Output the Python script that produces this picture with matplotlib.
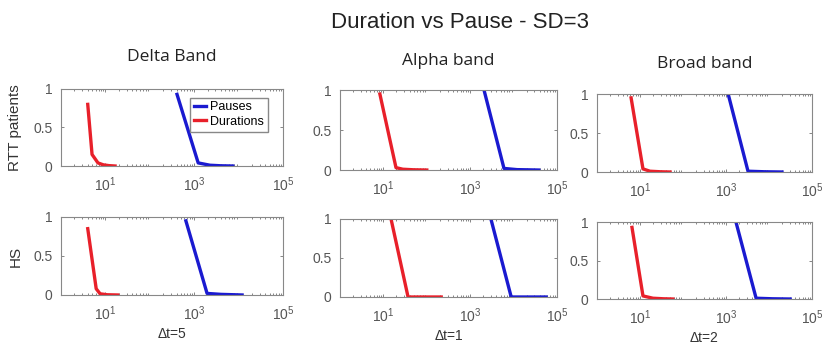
import matplotlib
matplotlib.use('Agg')
import matplotlib.pyplot as plt
from matplotlib.ticker import LogLocator, NullFormatter

# ── Data ──
bands = ["Delta Band", "Alpha band", "Broad band"]
groups = ["RTT patients", "HS"]
dt_labels = ["\u0394t=5", "\u0394t=1", "\u0394t=2"]

# Delta band
dur_x_delta_rtt = [4, 5, 6.8, 9, 12, 16.5]
dur_y_delta_rtt = [0.80, 0.15, 0.04, 0.015, 0.005, 0.0]
pau_x_delta_rtt = [410, 1230, 2270, 4000, 7400]
pau_y_delta_rtt = [0.93, 0.04, 0.01, 0.003, 0.0]
dur_x_delta_hs = [4, 6.2, 7.6, 11, 19]
dur_y_delta_hs = [0.85, 0.08, 0.015, 0.003, 0.0]
pau_x_delta_hs = [650, 1950, 4000, 12000]
pau_y_delta_hs = [0.95, 0.02, 0.008, 0.0]

# Alpha band
dur_x_alpha_rtt = [8.3, 19.5, 28, 50, 100]
dur_y_alpha_rtt = [0.95, 0.03, 0.01, 0.003, 0.0]
pau_x_alpha_rtt = [2080, 6000, 12000, 38000]
pau_y_alpha_rtt = [1.0, 0.02, 0.005, 0.0]
dur_x_alpha_hs = [15, 37, 80, 215]
dur_y_alpha_hs = [1.0, 0.0, 0.0, 0.0]
pau_x_alpha_hs = [3000, 8800, 20000, 56000]
pau_y_alpha_hs = [1.0, 0.0, 0.0, 0.0]

# Broad band
dur_x_broad_rtt = [6.2, 11.7, 17, 30, 50]
dur_y_broad_rtt = [0.95, 0.04, 0.01, 0.003, 0.0]
pau_x_broad_rtt = [1120, 3240, 8000, 20000]
pau_y_broad_rtt = [1.0, 0.01, 0.003, 0.0]
dur_x_broad_hs = [6.5, 11.7, 20, 35, 58]
dur_y_broad_hs = [0.93, 0.04, 0.01, 0.003, 0.0]
pau_x_broad_hs = [1700, 5000, 12000, 31000]
pau_y_broad_hs = [1.0, 0.01, 0.003, 0.0]

panels = [
    [(dur_x_delta_rtt, dur_y_delta_rtt, pau_x_delta_rtt, pau_y_delta_rtt),
     (dur_x_alpha_rtt, dur_y_alpha_rtt, pau_x_alpha_rtt, pau_y_alpha_rtt),
     (dur_x_broad_rtt, dur_y_broad_rtt, pau_x_broad_rtt, pau_y_broad_rtt)],
    [(dur_x_delta_hs, dur_y_delta_hs, pau_x_delta_hs, pau_y_delta_hs),
     (dur_x_alpha_hs, dur_y_alpha_hs, pau_x_alpha_hs, pau_y_alpha_hs),
     (dur_x_broad_hs, dur_y_broad_hs, pau_x_broad_hs, pau_y_broad_hs)],
]

# axes rectangles in figure fractions (left, bottom, width, height)
positions = [
    [(0.0729, 0.5216, 0.2652, 0.222), (0.4062, 0.510, 0.2593, 0.2305), (0.7133, 0.5043, 0.2569, 0.2248)],
    [(0.0729, 0.1499, 0.2652, 0.2248), (0.4062, 0.1441, 0.2593, 0.2248), (0.7133, 0.1383, 0.2569, 0.2219)],
]
title_pads = [20, 18, 19]

RED = '#e8202a'
BLUE = '#1a1ad0'
TICK_C = '#555555'

plt.rcParams['font.family'] = ['Liberation Sans', 'DejaVu Sans']

fig = plt.figure(figsize=(8.37, 3.47), dpi=100)

for r in range(2):
    for c in range(3):
        ax = fig.add_axes(positions[r][c])
        dx, dy, px, py = panels[r][c]
        lp, = ax.plot(px, py, color=BLUE, lw=2.4, label='Pauses')
        ld, = ax.plot(dx, dy, color=RED, lw=2.4, label='Durations')
        ax.set_xscale('log')
        ax.set_xlim(1, 1e5)
        ax.set_ylim(0, 1)
        ax.set_xticks([1e1, 1e3, 1e5])
        ax.xaxis.set_minor_locator(LogLocator(base=10, subs=range(2, 10), numticks=20))
        ax.xaxis.set_minor_formatter(NullFormatter())
        ax.set_yticks([0, 0.5, 1])
        ax.set_yticklabels(['0', '0.5', '1'])
        ax.tick_params(which='both', direction='in', top=True, right=True,
                       colors=TICK_C, labelsize=10, length=2, width=0.5)
        ax.tick_params(axis='x', which='major', pad=7)
        ax.tick_params(axis='y', which='major', pad=6)
        ax.tick_params(which='minor', length=1.2)
        for s in ax.spines.values():
            s.set_color('#888888')
            s.set_linewidth(0.8)
        if r == 0:
            ax.set_title(bands[c], fontsize=12.5, family=['Open Sans', 'DejaVu Sans'],
                         pad=title_pads[c], color='#222222')
        if r == 1:
            ax.set_xlabel(dt_labels[c], fontsize=10, color='#333333', labelpad=3)
        if c == 0:
            ax.set_ylabel(groups[r], fontsize=11, color='#333333', labelpad=8)
        if r == 0 and c == 0:
            ax.legend(handles=[lp, ld], loc='upper right', fontsize=9,
                      handlelength=1.0, handletextpad=0.3, borderpad=0.3,
                      labelspacing=0.2, fancybox=False, edgecolor='#888888',
                      framealpha=1.0, bbox_to_anchor=(0.96, 0.97))

fig.text(0.55, 0.935, "Duration vs Pause - SD=3", ha='center', va='center',
         fontsize=16, color='#222222')

plt.savefig('out.png', dpi=100)
